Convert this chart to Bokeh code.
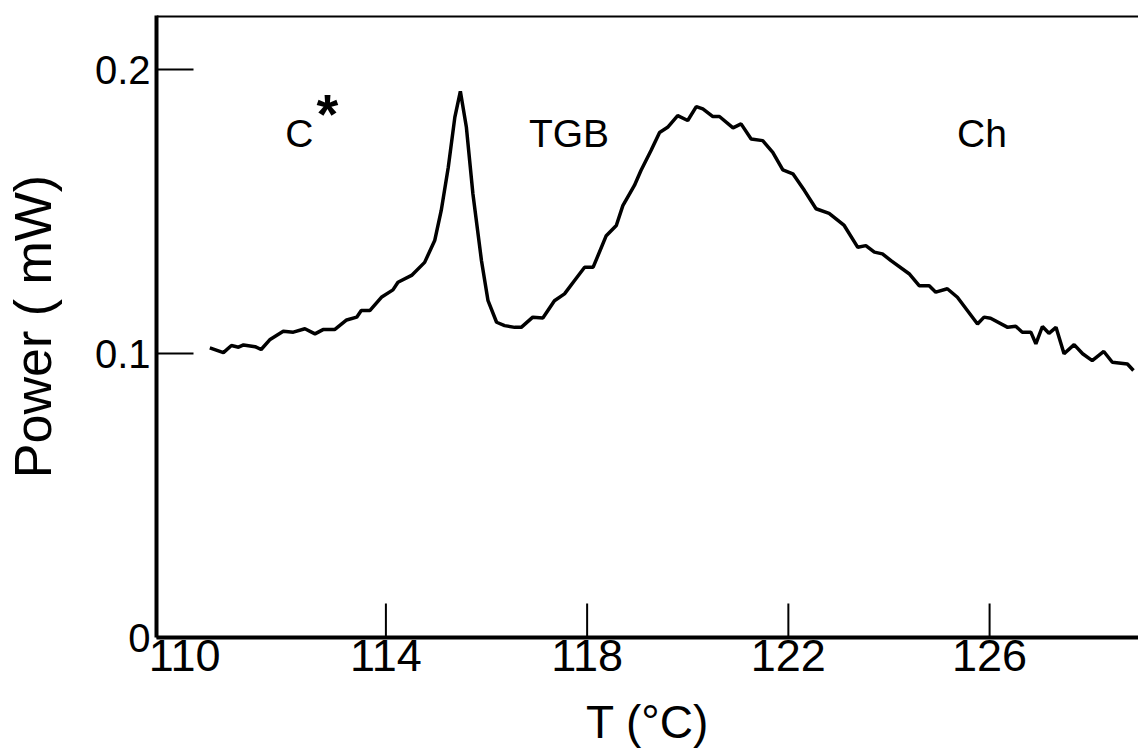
from bokeh.plotting import figure
from bokeh.models import Range1d, FixedTicker, Span, ColumnDataSource
from bokeh.embed import file_html
from bokeh.resources import INLINE
from bokeh.core.properties import value

# ---- data ----
temperature = [110.50, 110.77, 110.93, 111.07, 111.17, 111.40, 111.52, 111.69, 111.96, 112.16,
               112.39, 112.59, 112.75, 112.98, 113.22, 113.42, 113.51, 113.68, 113.91, 114.14,
               114.24, 114.51, 114.77, 114.97, 115.10, 115.24, 115.37, 115.48, 115.60, 115.73,
               115.90, 116.03, 116.20, 116.36, 116.56, 116.69, 116.92, 117.12, 117.35, 117.55,
               117.75, 117.95, 118.12, 118.38, 118.58, 118.71, 118.94, 119.07, 119.27, 119.44,
               119.60, 119.80, 120.00, 120.17, 120.30, 120.50, 120.63, 120.90, 121.06, 121.26,
               121.49, 121.69, 121.89, 122.09, 122.32, 122.55, 122.81, 123.11, 123.38, 123.54,
               123.71, 123.87, 124.04, 124.40, 124.60, 124.80, 124.93, 125.16, 125.36, 125.76,
               125.89, 126.02, 126.36, 126.52, 126.65, 126.82, 126.92, 127.05, 127.18, 127.32,
               127.48, 127.68, 127.85, 128.04, 128.27, 128.44, 128.74, 128.86]
power = [0.1021, 0.1004, 0.1029, 0.1023, 0.1031, 0.1025, 0.1015, 0.1049, 0.1079, 0.1076,
         0.1088, 0.1070, 0.1085, 0.1085, 0.1119, 0.1129, 0.1152, 0.1152, 0.1199, 0.1225,
         0.1252, 0.1276, 0.1322, 0.1399, 0.1505, 0.1657, 0.1833, 0.1925, 0.1798, 0.1563,
         0.1328, 0.1187, 0.1111, 0.1099, 0.1093, 0.1093, 0.1129, 0.1126, 0.1187, 0.1211,
         0.1258, 0.1305, 0.1305, 0.1416, 0.1452, 0.1522, 0.1593, 0.1646, 0.1716, 0.1780,
         0.1798, 0.1839, 0.1822, 0.1871, 0.1863, 0.1836, 0.1836, 0.1796, 0.1810, 0.1757,
         0.1751, 0.1710, 0.1648, 0.1634, 0.1575, 0.1511, 0.1495, 0.1452, 0.1375, 0.1381,
         0.1358, 0.1352, 0.1328, 0.1282, 0.1240, 0.1240, 0.1217, 0.1229, 0.1199, 0.1105,
         0.1129, 0.1125, 0.1093, 0.1097, 0.1076, 0.1076, 0.1035, 0.1096, 0.1072, 0.1093,
         0.1000, 0.1032, 0.1000, 0.0976, 0.1008, 0.0970, 0.0964, 0.0941]

x_tick_labels = [110, 114, 118, 122, 126]   # labelled temperatures
x_tick_marks = [114, 118, 122, 126]         # inward tick marks (none at the corner)
y_ticks = [0, 0.1, 0.2]
y_tick_labels = ["0", "0.1", "0.2"]

phase_names = ["C", "TGB", "Ch"]
phase_T = [112.28, 117.64, 125.85]
phase_P = [0.1775, 0.1775, 0.1775]

x_title = "T (\u00b0C)"
y_title = "Power ( mW)"

FONT = "Liberation Sans"
Y_TOP = 0.2192
X_TICK_LEN = 0.012   # inward tick length in data units (~34 px)

p = figure(width=1138, height=753, output_backend="svg", toolbar_location=None,
           x_range=Range1d(109.44, 128.96), y_range=Range1d(0, Y_TOP),
           min_border_left=155, min_border_right=0, min_border_top=15,
           min_border_bottom=116)
p.outline_line_color = None
p.grid.visible = False
p.background_fill_color = "white"
p.border_fill_color = "white"

p.line(temperature, power, line_color="black", line_width=3.5)

# inward x tick marks
p.segment(x0=x_tick_marks, y0=[0] * len(x_tick_marks),
          x1=x_tick_marks, y1=[X_TICK_LEN] * len(x_tick_marks),
          line_color="black", line_width=2)

# top frame line
p.add_layout(Span(location=Y_TOP, dimension="width",
                  line_color="black", line_width=4))

# x axis
xa = p.xaxis[0]
xa.ticker = FixedTicker(ticks=x_tick_labels, minor_ticks=[])
xa.axis_line_width = 4
xa.major_tick_in = 0
xa.major_tick_out = 0
xa.minor_tick_in = 0
xa.minor_tick_out = 0
xa.major_label_text_font = FONT
xa.major_label_text_font_size = "45px"
xa.major_label_text_line_height = 1.0
xa.major_label_text_color = "black"
xa.major_label_standoff = 2
xa.axis_label = x_title
xa.axis_label_text_font = FONT
xa.axis_label_text_font_size = "46px"
xa.axis_label_text_line_height = 1.0
xa.axis_label_text_font_style = "normal"
xa.axis_label_text_color = "black"
xa.axis_label_standoff = 22

# y axis
ya = p.yaxis[0]
ya.ticker = FixedTicker(ticks=y_ticks, minor_ticks=[])
ya.major_label_overrides = {t: s for t, s in zip(y_ticks, y_tick_labels)}
ya.axis_line_width = 4
ya.major_tick_line_width = 2
ya.major_tick_in = 37
ya.major_tick_out = 0
ya.minor_tick_in = 0
ya.minor_tick_out = 0
ya.major_label_text_font = FONT
ya.major_label_text_font_size = "40px"
ya.major_label_text_color = "black"
ya.major_label_standoff = 6
ya.axis_label = y_title
ya.axis_label_text_font = FONT
ya.axis_label_text_font_size = "52px"
ya.axis_label_text_font_style = "normal"
ya.axis_label_text_color = "black"
ya.axis_label_standoff = 30

# phase labels
src = ColumnDataSource(dict(x=phase_T, y=phase_P, t=phase_names))
p.text(x="x", y="y", text="t", source=src, text_font=value(FONT),
       text_font_size="39px", text_align="center", text_baseline="middle",
       text_color="black")
p.text(x=[phase_T[0]], y=[phase_P[0]], text=["*"], x_offset=28, y_offset=-20,
       text_font=value(FONT), text_font_size="56px", text_font_style="bold",
       text_align="center", text_baseline="middle", text_color="black")

open("out.html", "w").write(file_html(p, INLINE))
